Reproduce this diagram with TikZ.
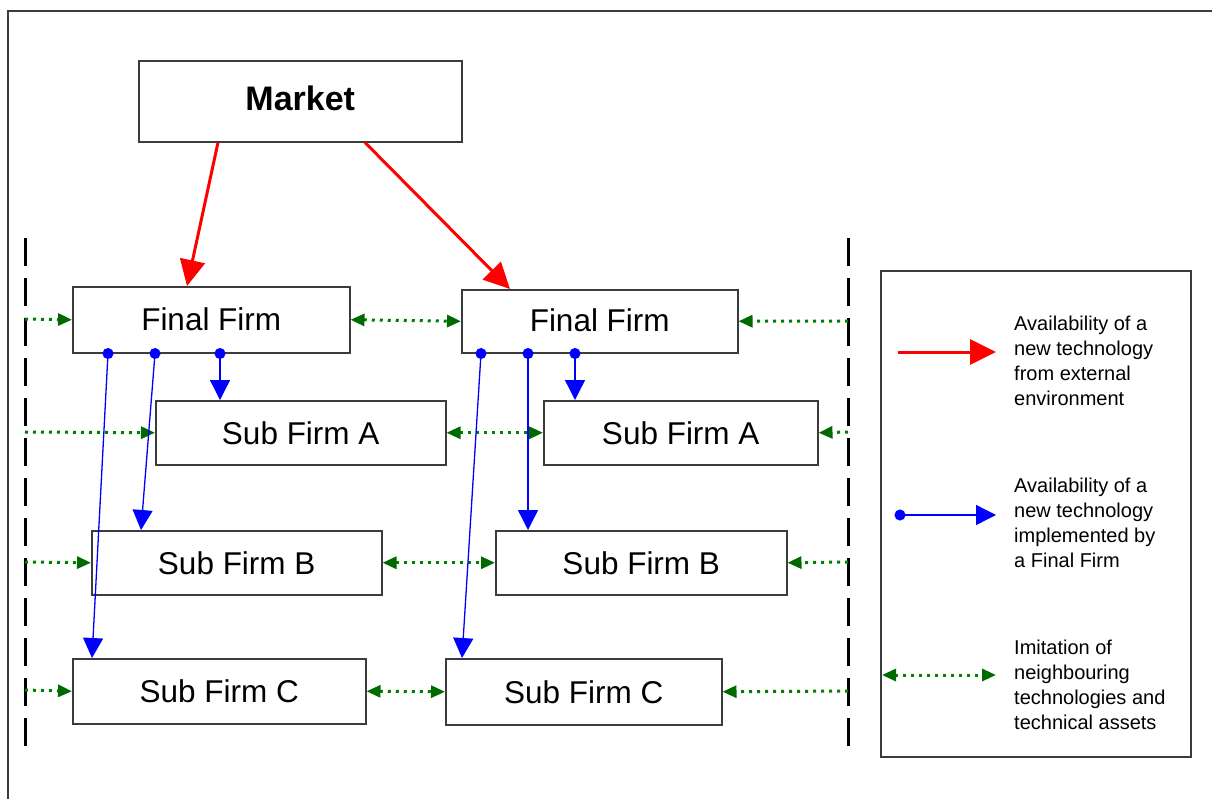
\documentclass[tikz,border=0pt]{standalone}
\usepackage{fontspec}
\setmainfont{Liberation Sans}
\usetikzlibrary{arrows.meta,calc}
\definecolor{gr}{RGB}{0,128,0}
\definecolor{grd}{RGB}{0,105,0}
\definecolor{frame}{RGB}{60,60,60}
\begin{document}
\begin{tikzpicture}[x=1pt,y=-1pt,
  box/.style={draw=frame, line width=1.5pt, fill=white, anchor=north west, inner sep=0pt,
    font=\fontsize{31.5}{36}\selectfont},
  redarr/.style={draw=red, line width=3pt, -{Triangle[length=26pt,width=25pt,color=red]}},
  bluearr/.style={draw=blue, line width=1.3pt, shorten <=-5.5pt,
    {Circle[length=11pt,color=blue]}-{Triangle[length=20pt,width=20pt,color=blue]}},
  grn/.style={draw=gr, line width=3pt, dash pattern=on 3pt off 5pt},
  gboth/.style={grn, {Triangle[length=14pt,width=12pt,color=grd]}-{Triangle[length=14pt,width=12pt,color=grd]}},
  gone/.style={grn, -{Triangle[length=14pt,width=12pt,color=grd]}},
  sep/.style={line width=3pt, dash pattern=on 28pt off 12pt},
  legtext/.style={anchor=north west, inner sep=0pt, align=left, font=\fontsize{20}{25}\selectfont}
]
\useasboundingbox (0,0) rectangle (1212,798);
% outer frame (cropped at right and bottom)
\draw[frame, line width=2pt] (8,11) rectangle (1230,820);

% separators
\draw[sep] (25,238) -- (25,752);
\draw[sep] (848,238) -- (848,752);

% boxes
\node[box, minimum width=323pt, minimum height=81pt, font=\fontsize{34}{40}\selectfont\bfseries] (market) at (138,60) {\raisebox{6pt}{Market}};
\node[box, minimum width=277pt, minimum height=66pt] (ff1) at (72,286) {\raisebox{2pt}{Final Firm}};
\node[box, minimum width=276pt, minimum height=63pt] (ff2) at (461,289) {\raisebox{2pt}{Final Firm}};
\node[box, minimum width=290pt, minimum height=64pt] (sa1) at (155,400) {Sub Firm A};
\node[box, minimum width=274pt, minimum height=64pt] (sa2) at (543,400) {Sub Firm A};
\node[box, minimum width=290pt, minimum height=64pt] (sb1) at (91,530) {Sub Firm B};
\node[box, minimum width=291pt, minimum height=64pt] (sb2) at (495,530) {Sub Firm B};
\node[box, minimum width=293pt, minimum height=65pt] (sc1) at (72,658) {Sub Firm C};
\node[box, minimum width=276pt, minimum height=66pt] (sc2) at (445,658) {Sub Firm C};

% legend box
\node[box, minimum width=310pt, minimum height=486pt] (legend) at (880,270) {};

% red arrows
\draw[redarr] ([xshift=80pt]market.south west) -- ([xshift=115pt]ff1.north west);
\draw[redarr] ([xshift=227pt]market.south west) -- ([xshift=49pt]ff2.north west);

% green connectors
\coordinate (lf) at (25,319);  \coordinate (rf) at (848,321);
\coordinate (la) at (25,432);  \coordinate (ra) at (848,432);
\coordinate (lb) at (25,562);  \coordinate (rb) at (848,562);
\coordinate (lc) at (25,690);  \coordinate (rc) at (848,691);
\draw[gone] (lf) -- (ff1.west);
\draw[gboth] (ff1.east) -- (ff2.west);
\draw[gone] (rf) -- (ff2.east);
\draw[gone] (la) -- (sa1.west);
\draw[gboth] (sa1.east) -- (sa2.west);
\draw[gone] (ra) -- (sa2.east);
\draw[gone] (lb) -- (sb1.west);
\draw[gboth] (sb1.east) -- (sb2.west);
\draw[gone] (rb) -- (sb2.east);
\draw[gone] (lc) -- (sc1.west);
\draw[gboth] (sc1.east) -- (sc2.west);
\draw[gone] (rc) -- (sc2.east);

% blue arrows
\draw[bluearr] ([xshift=148pt]ff1.south west) -- ([xshift=65pt]sa1.north west);
\draw[bluearr] ([xshift=83pt]ff1.south west) -- ([xshift=50pt]sb1.north west);
\draw[bluearr] ([xshift=36pt]ff1.south west) -- ([xshift=20pt]sc1.north west);
\draw[bluearr] ([xshift=114pt]ff2.south west) -- ([xshift=32pt]sa2.north west);
\draw[bluearr] ([xshift=67pt]ff2.south west) -- ([xshift=33pt]sb2.north west);
\draw[bluearr] ([xshift=20pt]ff2.south west) -- ([xshift=17pt]sc2.north west);

% legend contents
\coordinate (r1) at (898,352); \coordinate (r2) at (996,352);
\coordinate (b1) at (900,515); \coordinate (b2) at (996,515);
\coordinate (g1) at (882,675); \coordinate (g2) at (996,675);
\draw[redarr] (r1) -- (r2);
\draw[bluearr] (b1) -- (b2);
\draw[gboth] (g1) -- (g2);
\node[legtext] (t1) at (1014,316) {Availability of a\\new technology\\from external\\environment};
\node[legtext] (t2) at (1014,478) {Availability of a\\new technology\\implemented by\\a Final Firm};
\node[legtext] (t3) at (1014,640) {Imitation of\\neighbouring\\technologies and\\technical assets};
\end{tikzpicture}
\end{document}
